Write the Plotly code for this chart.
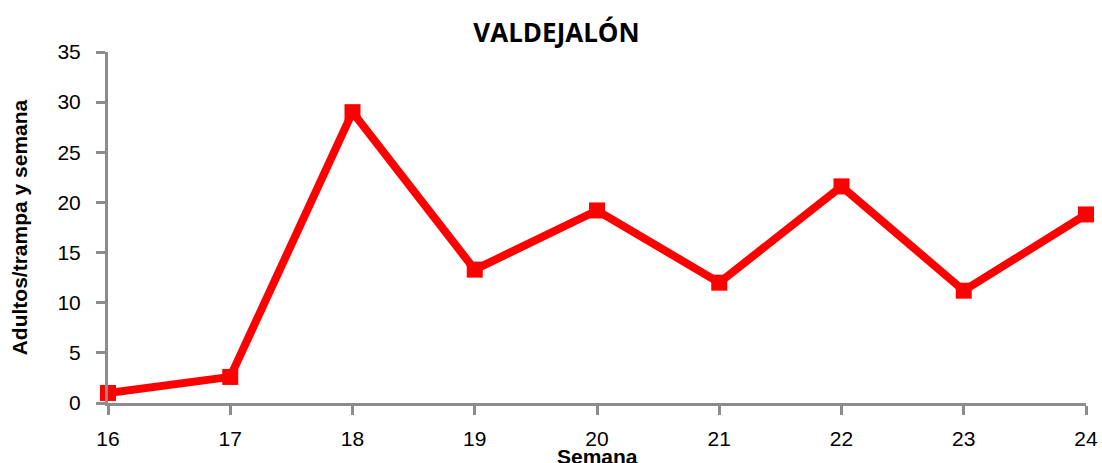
import plotly.graph_objects as go

semanas = [16, 17, 18, 19, 20, 21, 22, 23, 24]
adultos = [1.0, 2.6, 29.0, 13.3, 19.2, 12.0, 21.6, 11.2, 18.8]

fig = go.Figure()
fig.add_trace(go.Scatter(
    x=semanas, y=adultos, mode="lines+markers",
    line=dict(color="#FF0000", width=8),
    marker=dict(symbol="square", size=16, color="#FF0000"),
    cliponaxis=False, showlegend=False,
))

fig.update_layout(
    width=1102, height=463,
    paper_bgcolor="white", plot_bgcolor="white",
    margin=dict(l=108, r=16, t=52, b=60, autoexpand=False),
    title=dict(text="<b>VALDEJALÓN</b>", x=0.505, xanchor="center", y=0.93, yanchor="middle",
               font=dict(family="Open Sans", size=26, color="black")),
    font=dict(family="Liberation Sans", color="black"),
)
fig.add_annotation(
    text="<b>Semana</b>", xref="paper", yref="paper", x=0.5, y=-0.113,
    xanchor="center", yanchor="top", showarrow=False,
    font=dict(size=21, family="Liberation Sans", color="black"),
)
fig.update_xaxes(
    range=[16, 24], tickvals=semanas, ticktext=[str(s) for s in semanas],
    showgrid=False, zeroline=False, showline=True, linecolor="#8c8c8c", linewidth=3,
    ticks="outside", ticklen=9, tickwidth=3, tickcolor="#8c8c8c", automargin=False,
    tickfont=dict(size=21, family="Liberation Sans"), ticklabelstandoff=6,
)
fig.update_yaxes(
    range=[0, 35], dtick=5, tick0=0,
    showgrid=False, zeroline=False, showline=True, linecolor="#8c8c8c", linewidth=3,
    ticks="outside", ticklen=9, tickwidth=3, tickcolor="#8c8c8c", automargin=False,
    tickfont=dict(size=21, family="Liberation Sans"), ticklabelstandoff=11,
    title=dict(text="<b>Adultos/trampa y semana</b>", font=dict(size=21, family="Liberation Sans"), standoff=25),
)

fig.write_html("out.html", config={"displayModeBar": False},
               post_script="document.body.style.margin='0';document.body.style.overflow='hidden';")
